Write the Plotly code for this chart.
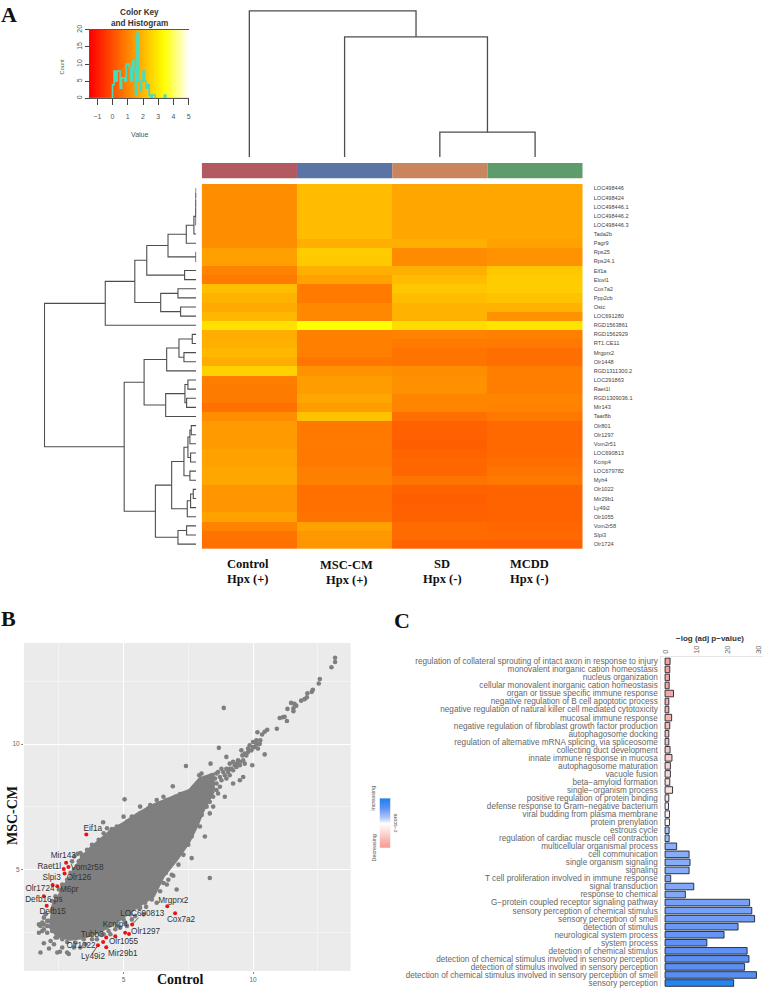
import numpy as np
import plotly.graph_objects as go

W, H = 767, 992
SANS = "Liberation Sans"
SERIF = "Liberation Serif"

# ---------- Panel A: heat map ----------
gene_labels = ["LOC498446","LOC498424","LOC498446.1","LOC498446.2","LOC498446.3","Tada2b","Pagr9","Rps25","Rps24.1","Eif1a",
               "Elovl1","Cox7a2","Ppp2cb","Ostc","LOC691280","RGD1563861","RGD1562929","RT1.CE11","Mrgprx2","Olr1448",
               "RGD1311300.2","LOC291863","Raet1l","RGD1309036.1","Mir143","Taar8b","Olr801","Olr1297","Vom2r51","LOC690813",
               "Kcnip4","LOC679782","Myh4","Olr1022","Mir29b1","Ly49i2","Olr1055","Vom2r58","Slpi3","Olr1724"]
control_vals = [1.2,1.2,1.2,1.2,1.2,1.2,1.2,1.55,1.55,1.0,0.85,2.15,1.9,1.75,2.0,2.8,1.8,1.85,2.0,1.8,
                2.5,0.9,0.85,0.85,0.65,1.2,1.45,1.45,1.45,1.6,1.6,1.7,1.7,1.35,1.35,1.35,1.6,1.0,0.7,0.65]
msc_vals = [2.1,2.1,2.1,2.1,2.1,2.1,1.85,2.4,2.35,1.85,1.6,0.85,0.85,1.1,1.1,3.4,0.95,0.95,0.95,0.75,
            1.3,1.5,1.5,1.7,1.5,2.2,0.8,0.8,0.85,0.8,0.8,0.95,0.95,0.65,0.65,0.65,0.7,1.6,1.4,1.35]
sd_vals = [1.7,1.7,1.7,1.7,1.7,1.7,1.85,1.15,1.15,1.85,2.1,2.3,2.1,1.9,1.9,2.7,1.0,0.85,0.7,0.7,
           1.2,1.25,1.25,1.05,1.05,0.6,0.35,0.35,0.3,0.4,0.45,0.45,0.7,0.4,0.3,0.35,0.35,0.55,0.55,0.4]
mcdd_vals = [1.7,1.7,1.7,1.7,1.7,1.7,1.6,1.3,1.3,2.3,2.4,2.4,2.2,1.9,1.3,2.85,0.95,0.8,0.6,0.6,
             0.9,0.9,0.9,1.05,1.0,0.8,0.5,0.5,0.5,0.5,0.6,0.7,0.8,0.4,0.4,0.4,0.4,0.45,0.5,0.35]
group_colors = ["#B35A60", "#5A75A5", "#C9865E", "#5F9C6C"]

# row tree: (left, right, height); ints >= 0 are leaves, "mN" is merge number N
row_merges = [(0,1,0.5),("m0",2,0.7),("m1",3,0.9),("m2",4,1.0),("m3",5,7),("m4",6,30),(7,8,1),("m5","m6",85),
              (9,10,35),("m7","m8",149),(11,12,55),(13,14,47),("m10","m11",107),("m9","m12",185),("m13",15,274),
              (16,17,12),(18,19,37),("m15","m16",52),("m17",20,89),(21,22,25),(23,24,29),("m19","m20",34),("m21",25,92),
              ("m18","m22",157),(26,27,15),("m24",28,19),(29,30,17),("m25","m26",25),(31,32,19),("m27","m28",37),
              (33,34,9),("m30",35,17),("m31",36,27),("m29","m32",74),(37,38,29),("m34",39,55),("m33","m35",123),
              ("m23","m36",217),("m14","m37",457)]
col_merges = [(2,3,25),(1,"m0",121),(0,"m1",147)]

# colour key histogram (bins 0.1 wide starting at 0)
hist_counts = [4,8,5,8,8,3,6,6,5,10,10,9,5,11,8,1,19,5,2,5,8,5,3,4,1,0,1,1,0,0,0,0,0,0,1,0]

# ---------- Panel B: MA-like scatter ----------
# silhouette of the solid part of the cloud
cloud_x = [2.18,2.31,2.50,2.69,3.01,3.33,3.65,4.10,4.55,5.0,5.58,6.15,7.05,7.56,7.95,8.46,
           8.46,8.21,8.08,7.82,7.5,7.05,6.54,6.15,5.38,4.87,4.49,3.97,3.46,2.95,2.44,2.12]
cloud_y = [3.28,3.68,3.94,4.34,4.80,5.40,5.79,6.19,6.58,6.85,7.24,7.57,7.97,8.17,8.63,8.80,
           8.10,7.64,7.37,6.72,6.06,5.40,4.74,3.94,3.42,3.02,2.76,2.49,2.30,2.23,2.36,2.76]
loose_x = [3.23,3.10,3.40,3.01,3.33,4.21,4.36,4.55,5.04,5.0,5.32,6.90,7.18,5.64,6.03,6.28,6.54,6.35,6.79,7.44,
           8.01,7.92,7.41,8.36,8.27,8.59,8.21,8.46,8.78,8.97,8.68,9.23,9.38,9.10,9.49,9.74,9.68,9.87,9.55,9.97,
           10.45,10.13,10.19,13.17,13.17,13.03,12.58,12.54,12.31,12.27,12.10,12.08,11.99,11.86,11.47,11.60,11.67,
           11.33,11.56,11.56,8.87,11.15,11.22,11.03,11.31,10.92,10.55,10.45,10.35,10.17,10.13,10.26,10.0,9.81,
           7.63,8.33,7.05,6.92,6.54,6.63,6.28,5.87,5.64,6.03,5.45,5.77,5.32,7.95,8.14,7.85,8.33,8.91,8.46,8.65,
           9.23,9.49,9.62,8.27,6.73,7.05,7.37,7.63,
           1.79,2.12,1.92,2.44,2.54,2.88,2.82,1.73,1.86,1.92,1.73,2.05,1.79,2.18,2.31,2.63,3.08,3.33,3.53,3.97,
           4.23,4.49,4.68,4.87,5.06,5.13,2.05,1.99,2.37,1.92]
loose_y = [5.63,5.53,5.53,5.33,5.66,6.89,6.65,6.62,7.80,7.11,7.11,8.32,8.01,7.51,7.57,7.77,7.90,7.51,7.77,7.97,
           8.83,8.76,9.13,9.22,8.69,8.83,8.50,8.43,9.02,9.49,9.85,9.29,9.22,9.02,9.16,9.55,9.62,9.95,9.75,9.16,
           9.59,10.01,9.82,13.44,13.27,13.06,12.59,12.41,12.16,12.08,12.02,11.86,11.79,11.73,11.64,11.60,11.53,
           11.40,11.42,11.31,11.44,11.07,11.09,11.04,10.92,10.61,10.57,10.49,10.38,10.47,10.15,10.01,9.88,9.82,
           5.46,4.67,4.21,4.76,4.47,4.87,3.68,3.52,3.48,3.94,3.15,3.22,3.02,6.72,6.32,6.91,7.24,7.90,7.51,8.03,
           8.43,8.56,8.69,7.90,4.60,5.53,6.06,6.32,
           1.70,1.86,2.07,1.70,1.73,1.64,1.70,2.82,2.89,2.63,2.49,2.49,2.76,2.16,2.03,1.90,1.90,1.90,2.03,2.23,
           2.43,2.43,2.63,2.69,2.89,2.76,2.96,3.22,2.30,3.09]
# dots of the narrow upper band
band_x = [8.08,8.21,8.33,8.40,8.53,8.59,8.65,8.72,8.78,8.85,8.91,8.97,9.04,9.10,9.17,9.23,9.29,9.36,9.42,9.49,9.62,9.68,
          9.59,9.81,9.94,10.06,10.15,10.0,10.28,9.10,8.97,8.72,8.59,8.46,8.33,8.21,8.46,8.08,7.95,7.95,8.01]
band_y = [8.30,8.56,8.43,8.76,8.63,8.43,8.89,8.69,8.56,8.89,8.76,9.02,8.89,9.22,9.02,8.96,9.16,9.09,9.35,9.29,9.35,9.22,
          9.55,9.68,9.75,9.88,9.99,10.08,10.15,8.76,8.63,8.30,8.17,7.90,7.70,7.51,8.23,7.90,7.77,7.37,7.18]
# dots that roughen the edge of the cloud
edge_x = [2.24,2.37,2.5,2.63,2.82,2.95,3.08,3.27,3.40,3.59,3.78,4.04,4.23,4.49,4.74,5.13,5.38,5.64,5.96,6.28,6.67,6.99,7.31,7.69,
          2.12,2.05,2.24,1.92,1.86,2.44,2.63,2.82,3.14,3.46,3.78,4.10,4.42,4.74,5.0,5.26,5.58,5.83,6.09,6.41,6.67,6.86,7.12,7.31,7.5,7.63,7.82,8.01,8.14]
edge_y = [3.75,3.94,4.21,4.41,4.60,4.87,5.0,5.33,5.59,5.79,5.99,6.19,6.45,6.52,6.72,6.91,7.04,7.24,7.44,7.57,7.77,7.90,8.03,8.17,
          2.96,2.76,2.56,2.82,2.56,2.30,2.23,2.12,2.10,2.23,2.23,2.43,2.56,2.76,3.02,3.22,3.48,3.68,3.81,4.14,4.41,4.80,5.20,5.59,5.99,6.39,6.78,7.18,7.51]
red_x = [3.56,2.78,2.69,2.87,2.72,2.26,2.44,1.92,2.03,6.69,6.99,5.33,5.06,5.21,4.68,4.33,4.21,4.33,4.01]
red_y = [6.40,5.28,5.03,5.11,4.85,4.39,4.34,3.94,3.56,3.54,3.26,2.82,2.49,2.44,2.35,2.30,2.12,1.91,1.99]
gene_text = ["Eif1a","Mir143","Raet1l","Vom2r58","Olr126","Slpi3","M6pr","Olr1724","Defb16 ps","Defb15","Mrgprx2","Cox7a2",
             "LOC690813","Kcnip4","Olr1297","Tubb3","Olr1055","Olr1022","Mir29b1","Ly49i2"]
gene_text_x = [3.81,2.67,2.13,3.59,3.28,2.22,2.90,1.77,1.92,2.26,6.92,7.22,5.72,4.68,5.85,3.79,5.0,3.36,4.97,3.82]
gene_text_y = [6.64,5.53,5.09,5.08,4.66,4.66,4.21,4.22,3.80,3.32,3.75,3.0,3.23,2.80,2.51,2.39,2.11,1.97,1.65,1.52]
link_x = [5.33,5.58,None,4.01,3.78]
link_y = [2.82,3.09,None,1.99,1.64]

# ---------- Panel C: enrichment bars ----------
term_labels = ["regulation of collateral sprouting of intact axon in response to injury","monovalent inorganic cation homeostasis",
               "nucleus organization","cellular monovalent inorganic cation homeostasis","organ or tissue specific immune response",
               "negative regulation of B cell apoptotic process","negative regulation of natural killer cell mediated cytotoxicity",
               "mucosal immune response","negative regulation of fibroblast growth factor production","autophagosome docking",
               "regulation of alternative mRNA splicing, via spliceosome","collecting duct development","innate immune response in mucosa",
               "autophagosome maturation","vacuole fusion","beta\u2212amyloid formation","single\u2212organism process",
               "positive regulation of protein binding","defense response to Gram\u2212negative bacterium","viral budding from plasma membrane",
               "protein prenylation","estrous cycle","regulation of cardiac muscle cell contraction","multicellular organismal process",
               "cell communication","single organism signaling","signaling","T cell proliferation involved in immune response",
               "signal transduction","response to chemical","G\u2212protein coupled receptor signaling pathway",
               "sensory perception of chemical stimulus","sensory perception of smell","detection of stimulus","neurological system process",
               "system process","detection of chemical stimulus","detection of chemical stimulus involved in sensory perception",
               "detection of stimulus involved in sensory perception","detection of chemical stimulus involved in sensory perception of smell",
               "sensory perception"]
term_values = [1.6,1.5,1.4,1.3,2.7,1.2,1.2,2.1,1.5,1.2,1.2,1.6,2.2,1.7,1.7,1.5,2.4,1.2,1.1,1.4,1.4,1.3,1.3,3.7,
               7.7,8.0,7.7,1.8,9.2,6.5,27.1,27.8,28.7,23.4,18.9,13.4,26.3,26.9,25.5,29.3,22.0]
term_scores = [-1.9,-1.85,-1.8,-1.75,-1.7,-1.6,-1.55,-1.5,-1.4,-1.3,-1.2,-1.1,-1.0,-0.9,-0.8,-0.7,-0.6,-0.5,-0.35,-0.2,-0.1,
               0.5,0.6,0.8,0.85,0.85,0.85,0.9,0.9,0.9,1.0,1.0,1.05,1.1,1.15,1.2,1.2,1.25,1.25,1.3,1.9]
score_legend = [2.0, 1.5, 1.0, 0.5, 0.0, -0.5, -1.0, -1.5, -2.0]


def dom(x0, x1, y0, y1):
    return dict(x=[x0 / W, x1 / W], y=[1 - y1 / H, 1 - y0 / H])


HIDDEN = dict(visible=False, showgrid=False, zeroline=False)
layout = dict(width=W, height=H, margin=dict(l=0, r=0, t=0, b=0), paper_bgcolor="white", plot_bgcolor="white",
              showlegend=False, annotations=[])


def add_axes(n, box, xkw, ykw):
    s = "" if n == 1 else str(n)
    d = dom(*box)
    layout["xaxis" + s] = dict(domain=d["x"], anchor="y" + s, **xkw)
    layout["yaxis" + s] = dict(domain=d["y"], anchor="x" + s, **ykw)
    return ("x" + s, "y" + s)


def tree_paths(merges):
    """Elbow paths for a nested merge list; leaves sit at their index, height 0."""
    pos, hgt = [], []
    centre, height = {}, {}
    for k, (a, b, h) in enumerate(merges):
        ca = centre[a] if isinstance(a, str) else a
        cb = centre[b] if isinstance(b, str) else b
        ha = height[a] if isinstance(a, str) else 0
        hb = height[b] if isinstance(b, str) else 0
        pos += [ca, ca, cb, cb, None]
        hgt += [ha, h, h, hb, None]
        centre["m%d" % k] = (ca + cb) / 2
        height["m%d" % k] = h
    return pos, hgt


def text(px, py, s, size, color="#333", family=SANS, bold=False, angle=0, anchor="center"):
    layout["annotations"].append(dict(x=px / W, y=1 - py / H, xref="paper", yref="paper", text=("<b>%s</b>" % s) if bold else s,
                                      showarrow=False, textangle=angle, xanchor=anchor, yanchor="middle",
                                      font=dict(size=size, color=color, family=family)))


fig = go.Figure()
HEAT = [[0, "#ff0000"], [0.75, "#ffff00"], [1, "#ffffff"]]

# --- colour key ---
xa, ya = add_axes(1, (89, 188.5, 25, 94),
                  dict(range=[-1.5, 5], tickvals=list(range(-1, 6)), ticks="outside", ticklen=6, tickcolor="#444",
                       tickfont=dict(size=7, color="#555", family=SANS), ticklabelstandoff=5, showgrid=False, zeroline=False,
                       showline=True, linecolor="#555", mirror=True),
                  dict(range=[0, 20], tickvals=[0, 5, 10, 15, 20], ticks="outside", ticklen=4, tickcolor="#444", tickangle=-90,
                       tickfont=dict(size=7, color="#555", family=SANS), showgrid=False, zeroline=False,
                       showline=True, linecolor="#555"))
key_grid = np.linspace(-1.5, 5, 140)
fig.add_trace(go.Heatmap(x=key_grid, y=[0, 20], z=[key_grid, key_grid], colorscale=HEAT, zmin=-1.5, zmax=5, showscale=False,
                         xaxis=xa, yaxis=ya, hoverinfo="skip"))
edges = np.arange(len(hist_counts)) * 0.1
fig.add_trace(go.Scatter(x=[-1.5] + list(edges) + [5], y=[0] + hist_counts + [0], mode="lines",
                         line=dict(shape="hv", color="#45DCC0", width=1.6), xaxis=xa, yaxis=ya))
text(139, 8, "Color Key", 8.2, "#333", bold=True)
text(139, 19, "and Histogram", 8.2, "#333", bold=True)
text(61, 62, "Count", 5.6, "#555", angle=-90)
text(139, 130, "Value", 7, "#555")

# --- column tree ---
xa, ya = add_axes(2, (201.5, 584, 3, 153), dict(range=[-0.5, 3.5], **HIDDEN), dict(range=[0, 150], **HIDDEN))
cx, cy = tree_paths(col_merges)
fig.add_trace(go.Scatter(x=cx, y=cy, mode="lines", line=dict(color="#4d4d4d", width=1.3), xaxis=xa, yaxis=ya))

# --- group strip ---
xa, ya = add_axes(3, (201.5, 584, 159, 174.5), dict(range=[-0.5, 3.5], **HIDDEN), dict(range=[0, 1], **HIDDEN))
fig.add_trace(go.Bar(x=[0, 1, 2, 3], y=[1, 1, 1, 1], width=1, marker=dict(color=group_colors, line=dict(width=0)), xaxis=xa, yaxis=ya))

# --- row tree ---
xa, ya = add_axes(4, (43, 196, 180, 547), dict(range=[459, 0], **HIDDEN), dict(range=[39.5, -0.5], **HIDDEN))
rp, rh = tree_paths(row_merges)
fig.add_trace(go.Scatter(x=rh, y=rp, mode="lines", line=dict(color="#4d4d4d", width=1.1), xaxis=xa, yaxis=ya))

# --- heat map ---
xa, ya = add_axes(5, (201.5, 584, 180, 547), dict(range=[-0.5, 3.5], **HIDDEN),
                  dict(range=[39.5, -0.5], side="right", tickvals=list(range(40)), ticktext=gene_labels, ticks="",
                       tickfont=dict(size=5.6, color="#444", family=SANS), ticklabelstandoff=10, showgrid=False, zeroline=False))
fig.add_trace(go.Heatmap(z=np.array([control_vals, msc_vals, sd_vals, mcdd_vals]).T, x=[0, 1, 2, 3], y=list(range(40)),
                         colorscale=HEAT, zmin=-1.5, zmax=5, showscale=False, xaxis=xa, yaxis=ya))
for px, py, a, b in [(248, 562, "Control", "Hpx (+)"), (347, 563, "MSC-CM", "Hpx (+)"), (443, 562, "SD", "Hpx (-)"), (531, 562, "MCDD", "Hpx (-)")]:
    text(px, py, a, 12.5, "#111", SERIF, True)
    text(px, py + 15, b, 12.5, "#111", SERIF, True)
text(8, 10, "A", 22, "#111", SERIF, True)
text(8, 617, "B", 22, "#111", SERIF, True)
text(403, 619, "C", 22, "#111", SERIF, True)

# --- scatter ---
xa, ya = add_axes(6, (23, 351, 642, 972),
                  dict(range=[1.15, 13.77], tick0=0, dtick=5, ticks="outside", ticklen=2, tickcolor="#888", showgrid=True, gridcolor="#ffffff",
                       gridwidth=1, zeroline=False, tickfont=dict(size=6.5, color="#666", family=SANS),
                       minor=dict(dtick=2.5, showgrid=True, gridcolor="#f4f4f4", gridwidth=0.6)),
                  dict(range=[0.96, 14.02], tick0=0, dtick=5, ticks="outside", ticklen=2, tickcolor="#888", showgrid=True, gridcolor="#ffffff",
                       gridwidth=1, zeroline=False, tickfont=dict(size=6.5, color="#666", family=SANS),
                       minor=dict(dtick=2.5, showgrid=True, gridcolor="#f4f4f4", gridwidth=0.6)))
layout["shapes"] = [dict(type="rect", xref="x6 domain", yref="y6 domain", x0=0, x1=1, y0=0, y1=1, fillcolor="#EBEBEB", line=dict(width=0), layer="below")]
GREY = "#7f7f7f"
fig.add_trace(go.Scatter(x=cloud_x, y=cloud_y, mode="lines", fill="toself", fillcolor=GREY, line=dict(color=GREY, width=3), xaxis=xa, yaxis=ya))
dots_x = loose_x + band_x + edge_x
dots_y = loose_y + band_y + edge_y
fig.add_trace(go.Scatter(x=dots_x, y=dots_y, mode="markers", marker=dict(color=GREY, size=4.6), xaxis=xa, yaxis=ya))
fig.add_trace(go.Scatter(x=link_x, y=link_y, mode="lines", line=dict(color="#333", width=0.8), xaxis=xa, yaxis=ya))
fig.add_trace(go.Scatter(x=red_x, y=red_y, mode="markers", marker=dict(color="#EE1111", size=4), xaxis=xa, yaxis=ya))
fig.add_trace(go.Scatter(x=gene_text_x, y=gene_text_y, mode="text", text=gene_text, textposition="middle center",
                         textfont=dict(size=8.2, color="#333", family=SANS), xaxis=xa, yaxis=ya, cliponaxis=False))
text(11, 815, "MSC-CM", 14, "#111", SERIF, True, angle=-90)
text(180, 980, "Control", 14, "#111", SERIF, True)

# --- enrichment bars ---
xa, ya = add_axes(7, (663, 765, 656.3, 988),
                  dict(range=[-1.18, 31.4], side="top", tickvals=[0, 10, 20, 30], tickangle=-90, ticks="", showgrid=False, zeroline=False,
                       tickfont=dict(size=7.5, color="#666", family=SANS), showline=True, linecolor="#e6e6e6", ticklabelstandoff=1),
                  dict(range=[40.5, -0.5], tickvals=list(range(41)), ticktext=term_labels, ticks="", showgrid=False, zeroline=False,
                       tickfont=dict(size=8.2, color="#666", family=SANS), showline=True, linecolor="#e6e6e6", ticklabelstandoff=1))
BARS = [[0, "#f49a90"], [0.5, "#ffffff"], [0.62, "#b0c8fa"], [0.8, "#5f90f5"], [1, "#1e82f0"]]
fig.add_trace(go.Bar(x=term_values, y=list(range(41)), orientation="h", width=0.82,
                     marker=dict(color=term_scores, colorscale=BARS, cmin=-2, cmax=2, line=dict(color="#1c2433", width=0.9)),
                     xaxis=xa, yaxis=ya))
text(712, 637, "\u2212log (adj p\u2212value)", 8, "#333", bold=True)

# --- z-score legend ---
xa, ya = add_axes(8, (380, 391, 798, 848), dict(range=[0, 1], **HIDDEN), dict(range=[-2, 2], **HIDDEN))
fig.add_trace(go.Heatmap(x=[0, 1], y=score_legend, z=[[v, v] for v in score_legend], colorscale=BARS, zmin=-2, zmax=2,
                         showscale=False, zsmooth="best", xaxis=xa, yaxis=ya, hoverinfo="skip"))
text(374, 798, "Increasing", 5.4, "#555", angle=-90)
text(374, 848, "Decreasing", 5.4, "#555", angle=-90)
text(396, 823, "z\u2212score", 5.4, "#555", angle=-90)

fig.update_layout(**layout)
fig.write_html("out.html", config=dict(displayModeBar=False),
               post_script="document.body.style.margin='0';document.body.style.overflow='hidden';")
